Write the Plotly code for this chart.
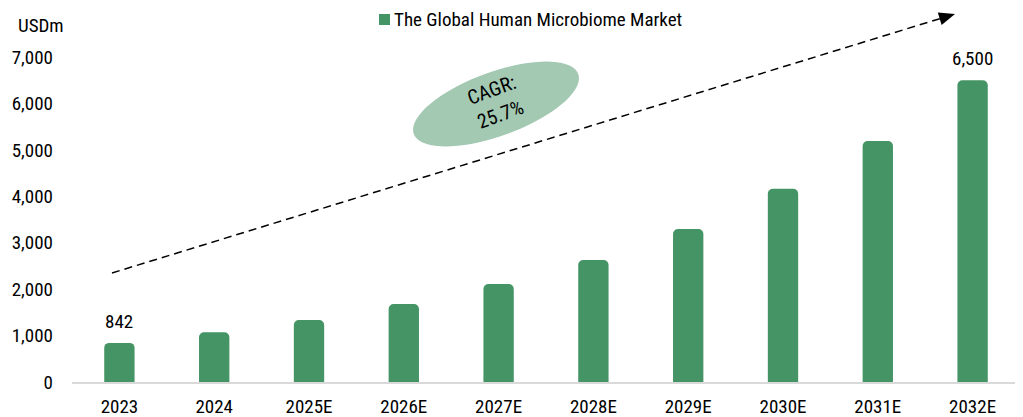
import math
import plotly.graph_objects as go

categories = ["2023", "2024", "2025E", "2026E", "2027E", "2028E", "2029E", "2030E", "2031E", "2032E"]
market_values = [842, 1070, 1335, 1680, 2110, 2628, 3295, 4160, 5190, 6500]
series_name = "The Global Human Microbiome Market"
labelled = {"2023": "842", "2032E": "6,500"}
y_ticks = [0, 1000, 2000, 3000, 4000, 5000, 6000, 7000]
y_tick_text = ["0", "1,000", "2,000", "3,000", "4,000", "5,000", "6,000", "7,000"]
cagr_text = "CAGR:<br>25.7%"

FONT = "Liberation Sans Narrow, Arial Narrow, Roboto Condensed, Liberation Sans, sans-serif"
FS = 19
BAR = "#459465"
OFF = 8  # page body margin
W, H = 1023 - OFF, 417 - OFF
L, R, T, B = 72 - OFF, 3, 57 - OFF, 35
PW, PH = W - L - R, H - T - B


def px(x, y):
    """absolute screen pixel -> paper coordinates"""
    return (x - OFF - L) / PW, (H - B - (y - OFF)) / PH


fig = go.Figure()
fig.add_trace(go.Bar(
    x=categories, y=market_values, name=series_name,
    marker=dict(color=BAR, line=dict(width=0)),
    showlegend=False,
))

annotations = []
for i, (c, v) in enumerate(zip(categories, market_values)):
    if c in labelled:
        annotations.append(dict(x=i, y=v, xref="x", yref="y", text=labelled[c],
                                showarrow=False, yanchor="bottom", yshift=8,
                                font=dict(family=FONT, size=FS, color="#000")))

# USDm label
ux, uy = px(41, 25)
annotations.append(dict(x=ux, y=uy, xref="paper", yref="paper", text="USDm", showarrow=False,
                        xanchor="center", yanchor="middle", font=dict(family=FONT, size=FS, color="#000")))

shapes = []
# legend (manual key)
k0 = px(379, 14)
k1 = px(390, 25)
shapes.append(dict(type="rect", xref="paper", yref="paper", x0=k0[0], y0=k0[1], x1=k1[0], y1=k1[1],
                   fillcolor=BAR, line=dict(width=0)))
lt = px(392, 20)
annotations.append(dict(x=lt[0], y=lt[1], xref="paper", yref="paper", text=series_name, showarrow=False,
                        xanchor="left", yanchor="middle", font=dict(family=FONT, size=FS, color="#000")))

# ellipse rotated
cx, cy, a, b, rot = 496, 104, 87.5, 32, math.radians(20)
pts = []
for k in range(73):
    t = 2 * math.pi * k / 72
    ex = a * math.cos(t)
    ey = b * math.sin(t)
    sx = cx + ex * math.cos(rot) + ey * math.sin(rot)
    sy = cy - ex * math.sin(rot) + ey * math.cos(rot)
    pts.append(px(sx, sy))
path = "M " + " L ".join(f"{p[0]:.5f},{p[1]:.5f}" for p in pts) + " Z"
shapes.append(dict(type="path", path=path, xref="paper", yref="paper",
                   fillcolor="#A3C9B2", line=dict(width=0), layer="above"))

tx, ty = px(496, 102)
annotations.append(dict(x=tx, y=ty, xref="paper", yref="paper", text=cagr_text, showarrow=False,
                        textangle=-20, font=dict(family=FONT, size=20, color="#000"),
                        xanchor="center", yanchor="middle"))

# dashed arrow
sx0, sy0 = 112, 273
tipx, tipy = 955, 14
dx, dy = tipx - sx0, tipy - sy0
ln = math.hypot(dx, dy)
ux_, uy_ = dx / ln, dy / ln
bx, by = tipx - 16 * ux_, tipy - 16 * uy_
nx, ny = -uy_, ux_
p0 = px(sx0, sy0)
p1 = px(bx + 2 * ux_, by + 2 * uy_)
shapes.append(dict(type="line", xref="paper", yref="paper", x0=p0[0], y0=p0[1], x1=p1[0], y1=p1[1],
                   line=dict(color="#000", width=1.5, dash="8px,5px")))
tp = px(tipx, tipy)
q1 = px(bx + 6.5 * nx, by + 6.5 * ny)
q2 = px(bx - 6.5 * nx, by - 6.5 * ny)
shapes.append(dict(type="path", xref="paper", yref="paper",
                   path=f"M {tp[0]:.5f},{tp[1]:.5f} L {q1[0]:.5f},{q1[1]:.5f} L {q2[0]:.5f},{q2[1]:.5f} Z",
                   fillcolor="#000", line=dict(width=0)))

fig.update_layout(
    width=W, height=H,
    margin=dict(l=L, r=R, t=T, b=B, pad=0, autoexpand=False),
    paper_bgcolor="white", plot_bgcolor="white",
    font=dict(family=FONT, size=FS, color="#000"),
    barcornerradius=5,
    bargap=0.68,
    showlegend=False,
    xaxis=dict(type="category", range=[-0.5, len(categories) - 0.5], showgrid=False,
               showline=True, linecolor="#D9D9D9", linewidth=2, automargin=False,
               ticks="", tickfont=dict(family=FONT, size=FS), ticklabelstandoff=6),
    yaxis=dict(range=[0, 7000], tickvals=y_ticks, ticktext=y_tick_text, showgrid=False,
               zeroline=False, showline=False, ticks="", ticklabelstandoff=18, automargin=False,
               tickfont=dict(family=FONT, size=FS)),
    annotations=annotations,
    shapes=shapes,
)
fig.write_html("out.html")
